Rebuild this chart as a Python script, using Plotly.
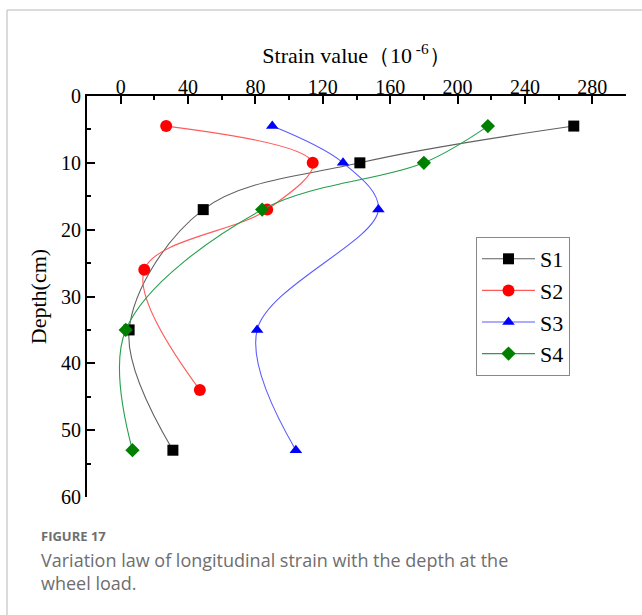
import plotly.graph_objects as go

# Measured longitudinal strain (10^-6) against depth (cm) for four sensor lines
depth_s1 = [4.5, 10, 17, 35, 53]
strain_s1 = [269, 142, 49, 5, 31]

depth_s2 = [4.5, 10, 17, 26, 44]
strain_s2 = [27, 114, 87, 14, 47]

depth_s3 = [4.5, 10, 17, 35, 53]
strain_s3 = [90, 132, 153, 81, 104]

depth_s4 = [4.5, 10, 17, 35, 53]
strain_s4 = [218, 180, 84, 3, 7]

series_names = ["S1", "S2", "S3", "S4"]
marker_colors = ["#000000", "#ff0000", "#0000ff", "#008000"]
line_colors = ["#606060", "#ff5a5a", "#5a5aff", "#22a04a"]
symbols = ["square", "circle", "triangle-up", "diamond"]

x_ticks = [0, 40, 80, 120, 160, 200, 240, 280]
y_ticks = [0, 10, 20, 30, 40, 50, 60]

W, H = 642, 615
L, R, T, B = 87, 16, 96, 118
PW, PH = W - L - R, H - T - B


def px_x(px):
    return (px - L) / PW


def px_y(py):
    return (H - B - py) / PH


fig = go.Figure()
data = [(strain_s1, depth_s1), (strain_s2, depth_s2),
        (strain_s3, depth_s3), (strain_s4, depth_s4)]
for (xs, ys), name, mc, lc, sym in zip(data, series_names, marker_colors,
                                       line_colors, symbols):
    fig.add_trace(go.Scatter(
        x=xs, y=ys, name=name, mode="lines+markers",
        line=dict(color=lc, width=1.1, shape="spline", smoothing=1.0),
        marker=dict(symbol=sym, color=mc, size=11 if sym != "circle" else 12,
                    line=dict(width=0)),
    ))

serif = "Liberation Serif"

fig.update_layout(
    width=W, height=H,
    margin=dict(l=L, r=R, t=T, b=B, pad=0),
    paper_bgcolor="white", plot_bgcolor="white",
    font=dict(family=serif, size=19, color="black"),
    showlegend=True,
    legend=dict(
        x=px_x(476), y=px_y(237), xanchor="left", yanchor="top",
        bgcolor="white", bordercolor="#888888", borderwidth=1,
        font=dict(family=serif, size=22, color="black"),
        tracegroupgap=0, itemwidth=53,
    ),
    xaxis=dict(
        side="top", range=[-20, 300], tickvals=x_ticks,
        showline=True, linecolor="black", linewidth=2,
        ticks="inside", ticklen=8, tickwidth=1.5, tickcolor="black",
        minor=dict(dtick=20, tick0=0, ticks="inside", ticklen=4,
                   tickwidth=1.5, tickcolor="black"),
        showgrid=False, zeroline=False,
        tickfont=dict(family=serif, size=20),
        ticklabelstandoff=-8,
        title=dict(text="Strain value（10<sup> -6</sup>）",
                   font=dict(family=serif, size=22), standoff=6),
    ),
    yaxis=dict(
        range=[60, 0], tickvals=y_ticks,
        showline=True, linecolor="black", linewidth=2,
        ticks="inside", ticklen=8, tickwidth=1.5, tickcolor="black",
        minor=dict(dtick=5, tick0=0, ticks="inside", ticklen=4,
                   tickwidth=1.5, tickcolor="black"),
        showgrid=False, zeroline=False,
        tickfont=dict(family=serif, size=20),
        title=dict(text="Depth(cm)", font=dict(family=serif, size=22),
                   standoff=8),
    ),
)

# Figure frame (left and top rules)
fig.add_shape(type="line", xref="paper", yref="paper",
              x0=px_x(7), x1=px_x(7), y0=px_y(10), y1=px_y(H),
              line=dict(color="#cfcfcf", width=1.5))
fig.add_shape(type="line", xref="paper", yref="paper",
              x0=px_x(7), x1=px_x(W), y0=px_y(10), y1=px_y(10),
              line=dict(color="#cfcfcf", width=1.5))

caption_font = "Open Sans"
cap_color = "#6e6e6e"
fig.add_annotation(text="<b>FIGURE 17</b>", xref="paper", yref="paper",
                   x=px_x(39), y=px_y(536), xanchor="left", yanchor="middle",
                   showarrow=False,
                   font=dict(family=caption_font, size=13, color=cap_color))
fig.add_annotation(text="Variation law of longitudinal strain with the depth at the"
                        "<br>wheel load.",
                   xref="paper", yref="paper", align="left",
                   x=px_x(39), y=px_y(546), xanchor="left", yanchor="top",
                   showarrow=False,
                   font=dict(family=caption_font, size=18, color=cap_color))

fig.write_html("out.html")
